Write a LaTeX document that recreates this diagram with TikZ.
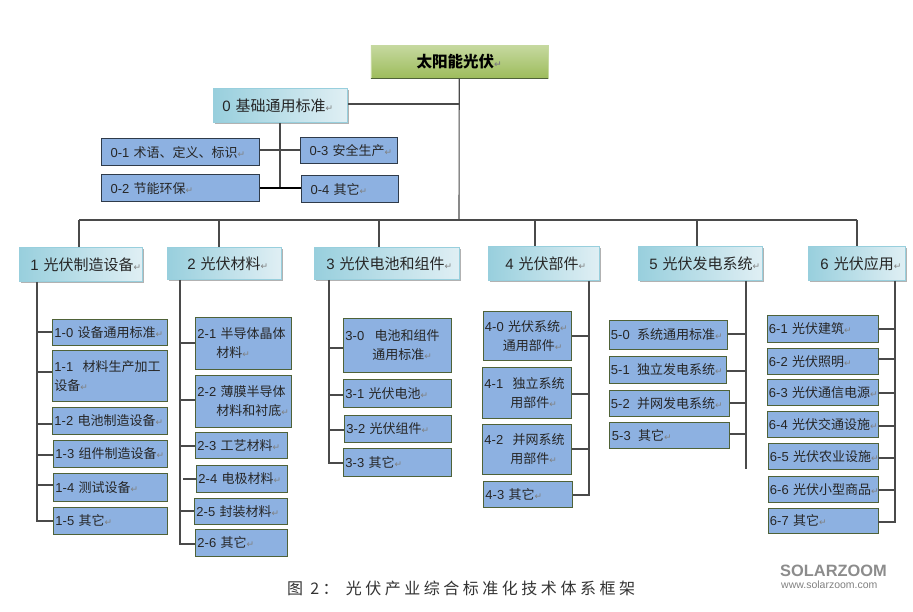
\documentclass[tikz,border=0pt]{standalone}
\usepackage{fontspec}
\setmainfont{Noto Sans CJK SC}
\newfontfamily\latinfont{Liberation Sans}
\newfontfamily\markfont{DejaVu Sans}
\newfontfamily\capfont[LetterSpace=22]{Noto Sans CJK SC}
\usetikzlibrary{shadows}
\definecolor{leafblue}{HTML}{8DB1E1}
\definecolor{leafedge}{HTML}{4F6238}
\definecolor{darkedge}{HTML}{2F3B4A}
\definecolor{linegray}{HTML}{4A4A4A}
\definecolor{headteal}{HTML}{98CFDD}
\definecolor{headpale}{HTML}{E0EFF4}
\definecolor{rootlight}{HTML}{C6D9A0}
\definecolor{rootmid}{HTML}{9DBC5B}
\newcommand{\retmark}{{\markfont\fontsize{9}{9}\selectfont\textcolor{black!50}{↵}}}
\newcommand{\leaffont}{\fontsize{13}{19}\selectfont\spaceskip=2.5pt\relax}
\newcommand{\headfont}{\fontsize{15}{18}\selectfont\spaceskip=3pt\relax}
\tikzset{>=latex}
\tikzset{
  leaf/.style={draw=leafedge, line width=0.9, fill=leafblue, text=black!85, font=\leaffont,
    align=left, inner xsep=2pt, inner ysep=0pt, anchor=north west},
  zeroleaf/.style={leaf, draw=darkedge, line width=1.1},
  headbox/.style={left color=headteal, right color=headpale, draw=headteal, line width=0.8,
    drop shadow={shadow xshift=1.5pt, shadow yshift=-2pt, fill=gray!60, opacity=1},
    font=\headfont, text=black!85, anchor=north west, inner sep=0pt, align=left},
  trunk/.style={draw=linegray, line width=1.1},
}
\begin{document}
\begin{tikzpicture}[x=1pt,y=-1pt]
\useasboundingbox (0,0) rectangle (913,612);

%% root
\node[anchor=north west, minimum width=177pt, minimum height=33pt, inner sep=0pt, top color=rootlight, middle color=rootmid, bottom color=rootmid,
  draw=rootlight, line width=0.5, font=\fontsize{15.5}{18}\bfseries\selectfont] (root) at (370.5,45) {太阳能光伏\retmark};
\draw[draw=leafedge, line width=1.5] (root.south west)--(root.south east);

%% group 0
\node[headbox, text width=134pt, minimum height=34pt] (h0) at (213,88) {\hspace{9pt}{\latinfont 0} 基础通用标准\retmark};
\node[zeroleaf, text width=154pt, minimum height=27pt] (n01) at (101,138) {\hspace{7pt}{\latinfont 0-1} 术语、定义、标识\retmark};
\node[zeroleaf, text width=154pt, minimum height=27pt] (n02) at (101,174) {\hspace{7pt}{\latinfont 0-2} 节能环保\retmark};
\node[zeroleaf, text width=93pt, minimum height=26pt] (n03) at (300,137) {\hspace{7pt}{\latinfont 0-3} 安全生产\retmark};
\node[zeroleaf, text width=93pt, minimum height=27pt] (n04) at (301,175) {\hspace{7pt}{\latinfont 0-4} 其它\retmark};

\coordinate (bus) at (459,220);
\draw[trunk] (root.south)--(bus);
\draw[trunk] (h0.east|-0,104)--(459,104);
\draw[trunk] (280,0|-h0.south)--(280,188);
\draw[trunk] (n01.east|-0,150)--(n03.west|-0,150);
\draw[trunk,black] (n02.east|-0,188)--(n04.west|-0,188);

%% groups 1 to 6
\node[headbox, text width=123pt, minimum height=34pt] (h1) at (19,247) {\hspace{11pt}{\latinfont 1} 光伏制造设备\retmark};
\node[headbox, text width=114pt, minimum height=32pt] (h2) at (167,247) {\hspace{20pt}{\latinfont 2} 光伏材料\retmark};
\node[headbox, text width=145pt, minimum height=32pt] (h3) at (314,247) {\hspace{12pt}{\latinfont 3} 光伏电池和组件\retmark};
\node[headbox, text width=111pt, minimum height=34pt] (h4) at (488,246) {\hspace{17pt}{\latinfont 4} 光伏部件\retmark};
\node[headbox, text width=124pt, minimum height=34pt] (h5) at (638,246) {\hspace{11pt}{\latinfont 5} 光伏发电系统\retmark};
\node[headbox, text width=97pt, minimum height=34pt] (h6) at (808,246) {\hspace{12pt}{\latinfont 6} 光伏应用\retmark};

\draw[trunk] (79,220)--(857,220);
\draw[trunk] (79,220)--(79,0|-h1.north);
\draw[trunk] (219,220)--(219,0|-h2.north);
\draw[trunk] (379,220)--(379,0|-h3.north);
\draw[trunk] (535,220)--(535,0|-h4.north);
\draw[trunk] (697,220)--(697,0|-h5.north);
\draw[trunk] (857,220)--(857,0|-h6.north);

%% leaves 1
\node[leaf, text width=111pt, minimum height=26pt] (n10) at (52,319) {{\latinfont 1-0} 设备通用标准\rlap{\retmark}};
\node[leaf, text width=111pt, minimum height=51pt] (n11) at (52,350) {{\latinfont 1-1}\hspace{5pt} 材料生产加工\\设备\retmark};
\node[leaf, text width=111pt, minimum height=27pt] (n12) at (52,407) {{\latinfont 1-2} 电池制造设备\rlap{\retmark}};
\node[leaf, text width=110pt, minimum height=27pt] (n13) at (53,440) {{\latinfont 1-3} 组件制造设备\rlap{\retmark}};
\node[leaf, text width=110pt, minimum height=28pt] (n14) at (53,473) {{\latinfont 1-4} 测试设备\retmark};
\node[leaf, text width=110pt, minimum height=27pt] (n15) at (53,507) {{\latinfont 1-5} 其它\retmark};
\draw[trunk] (37,0|-h1.south)--(37,521)--(n15.west|-0,521);
\foreach \yy/\nn in {332/n10,372/n11,424/n12,455/n13,485/n14}
  \draw[trunk] (37,\yy)--(\nn.west|-0,\yy);

%% leaves 2
\node[leaf, text width=92pt, minimum height=52pt] (n21) at (195,317) {{\latinfont 2-1} 半导体晶体\\\hspace{19pt}材料\retmark};
\node[leaf, text width=92pt, minimum height=52pt] (n22) at (195,375) {{\latinfont 2-2} 薄膜半导体\\\hspace{19pt}材料和衬底\rlap{\retmark}};
\node[leaf, text width=88pt, minimum height=26pt] (n23) at (195,432) {{\latinfont 2-3} 工艺材料\retmark};
\node[leaf, text width=87pt, minimum height=27pt] (n24) at (196,465) {{\latinfont 2-4} 电极材料\retmark};
\node[leaf, text width=89pt, minimum height=26pt] (n25) at (194,498) {{\latinfont 2-5} 封装材料\retmark};
\node[leaf, text width=88pt, minimum height=27pt] (n26) at (195,529) {{\latinfont 2-6} 其它\retmark};
\draw[trunk] (180,0|-h2.south)--(180,544)--(n26.west|-0,544);
\foreach \yy/\nn in {343/n21,400/n22,446/n23,511/n25}
  \draw[trunk] (180,\yy)--(\nn.west|-0,\yy);
\draw[trunk] (183,479)--(n24.west|-0,479);

%% leaves 3
\node[leaf, text width=104pt, minimum height=54pt] (n30) at (343,318) {{\latinfont 3-0}\hspace{6pt} 电池和组件\\\hspace{27pt}通用标准\retmark};
\node[leaf, text width=104pt, minimum height=28pt] (n31) at (343,379) {{\latinfont 3-1} 光伏电池\retmark};
\node[leaf, text width=103pt, minimum height=27pt] (n32) at (344,415) {{\latinfont 3-2} 光伏组件\retmark};
\node[leaf, text width=104pt, minimum height=28pt] (n33) at (343,448) {{\latinfont 3-3} 其它\retmark};
\draw[trunk] (329,0|-h3.south)--(329,463)--(n33.west|-0,463);
\foreach \yy/\nn in {348/n30,395/n31,430/n32}
  \draw[trunk] (329,\yy)--(\nn.west|-0,\yy);

%% leaves 4
\node[leaf, text width=84.5pt, minimum height=49pt] (n40) at (482.5,311) {{\latinfont 4-0} 光伏系统\retmark\\\hspace{18pt}通用部件\retmark};
\node[leaf, text width=85pt, minimum height=51pt] (n41) at (482,367) {{\latinfont 4-1}\hspace{5pt} 独立系统\\\hspace{26pt}用部件\retmark};
\node[leaf, text width=85pt, minimum height=50pt] (n42) at (482,424) {{\latinfont 4-2}\hspace{5pt} 并网系统\\\hspace{26pt}用部件\retmark};
\node[leaf, text width=85pt, minimum height=26pt] (n43) at (483,481) {{\latinfont 4-3} 其它\retmark};
\draw[trunk] (589,0|-h4.south)--(589,495)--(n43.east|-0,495);
\foreach \yy/\nn in {336/n40,394/n41,449/n42}
  \draw[trunk] (589,\yy)--(\nn.east|-0,\yy);

%% leaves 5
\node[leaf, text width=114.5pt, minimum height=29pt] (n50) at (608.5,320) {{\latinfont 5-0}\hspace{3pt} 系统通用标准\rlap{\retmark}};
\node[leaf, text width=113.5pt, minimum height=27pt] (n51) at (608.5,356) {{\latinfont 5-1}\hspace{3pt} 独立发电系统\rlap{\retmark}};
\node[leaf, text width=116.5pt, minimum height=26pt] (n52) at (608.5,390) {{\latinfont 5-2}\hspace{3pt} 并网发电系统\rlap{\retmark}};
\node[leaf, text width=116.5pt, minimum height=26pt] (n53) at (608.5,422) {\hspace{1pt}{\latinfont 5-3}\hspace{3pt} 其它\retmark};
\draw[trunk] (746,0|-h5.south)--(746,469);
\foreach \yy/\nn in {334/n50,371/n51,403/n52,434/n53}
  \draw[trunk] (746,\yy)--(\nn.east|-0,\yy);

%% leaves 6
\node[leaf, text width=107pt, minimum height=27pt] (n61) at (766.5,315) {{\latinfont 6-1} 光伏建筑\retmark};
\node[leaf, text width=107pt, minimum height=26pt] (n62) at (766.5,348) {{\latinfont 6-2} 光伏照明\retmark};
\node[leaf, text width=107pt, minimum height=26pt] (n63) at (766.5,379) {\mbox{{\latinfont 6-3} 光伏通信电源\rlap{\retmark}}};
\node[leaf, text width=107pt, minimum height=26pt] (n64) at (766.5,411) {\mbox{{\latinfont 6-4} 光伏交通设施\rlap{\retmark}}};
\node[leaf, text width=106pt, minimum height=26pt] (n65) at (767.5,443) {\mbox{{\latinfont 6-5} 光伏农业设施\rlap{\retmark}}};
\node[leaf, text width=106pt, minimum height=26pt] (n66) at (767.5,476) {\mbox{{\latinfont 6-6} 光伏小型商品\rlap{\retmark}}};
\node[leaf, text width=106pt, minimum height=25pt] (n67) at (767.5,508) {{\latinfont 6-7} 其它\retmark};
\draw[trunk] (895,0|-h6.south)--(895,522)--(n67.east|-0,522);
\foreach \yy/\nn in {329/n61,359/n62,393/n63,426/n64,458/n65,490/n66}
  \draw[trunk] (895,\yy)--(\nn.east|-0,\yy);

%% caption and logo
\node[anchor=west, inner sep=0pt, font=\capfont\fontsize{16}{18}\selectfont, text=black!80] (cap) at (287,588) {图 2： 光伏产业综合标准化技术体系框架};
\node[anchor=west, inner sep=0pt, font=\latinfont\bfseries\fontsize{16.4}{17}\selectfont, text=gray!90] (logo) at (780,570.5) {SOLARZOOM};
\node[anchor=west, inner sep=0pt, font=\latinfont\fontsize{10.5}{11}\selectfont, text=gray] (url) at (781,585) {www.solarzoom.com};

\end{tikzpicture}
\end{document}
